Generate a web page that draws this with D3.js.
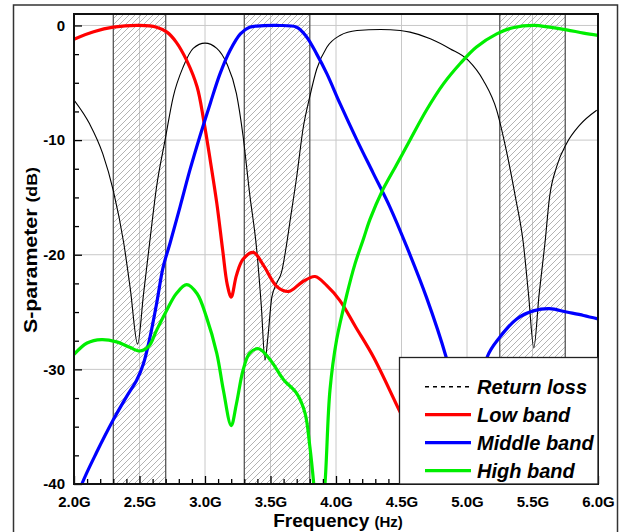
<!DOCTYPE html>
<html><head><meta charset="utf-8">
<script src="https://cdn.jsdelivr.net/npm/d3@7"></script>
<style>
body{margin:0;background:#fff;}
svg{display:block;font-family:Arial,"Liberation Sans",sans-serif;}
</style></head>
<body><svg id="c" width="626" height="532"></svg>
<script>
// ---- data (frequency in GHz, S-parameter in dB) ----
const xTicks = [2.0, 2.5, 3.0, 3.5, 4.0, 4.5, 5.0, 5.5, 6.0];
const yTicks = [0, -10, -20, -30, -40];
const bands = [[2.3, 2.7], [3.3, 3.8], [5.25, 5.75]];
const seriesNames = ["Return loss", "Low band", "Middle band", "High band"];

const returnLoss = [
 [2.0,-6.5],[2.12,-8.6],[2.22,-11.2],[2.3,-14.4],[2.38,-19.0],[2.43,-23.0],[2.486,-27.8],
 [2.53,-23.5],[2.58,-18.7],[2.63,-14.1],[2.695,-10.0],[2.758,-6.2],[2.834,-3.6],[2.91,-2.0],
 [3.0,-1.54],[3.09,-2.0],[3.165,-3.3],[3.24,-5.95],[3.29,-9.6],[3.34,-14.6],[3.395,-19.6],
 [3.43,-24.5],[3.458,-29.2],[3.48,-27.2],[3.51,-23.7],[3.547,-22.5],[3.585,-21.5],[3.62,-19.3],
 [3.65,-17.0],[3.70,-13.2],[3.75,-8.9],[3.80,-6.2],[3.853,-3.8],[3.93,-1.9],[4.03,-0.87],
 [4.16,-0.44],[4.34,-0.35],[4.49,-0.44],[4.565,-0.58],[4.72,-1.16],[4.87,-2.03],[5.01,-3.05],
 [5.125,-4.8],[5.227,-7.4],[5.30,-10.9],[5.37,-15.0],[5.43,-19.0],[5.47,-23.5],[5.51,-28.1],
 [5.55,-23.5],[5.595,-19.0],[5.63,-15.0],[5.685,-12.3],[5.76,-10.3],[5.86,-8.7],[5.99,-7.4]
];
const lowBand = [
 [2.0,-1.2],[2.15,-0.55],[2.3,-0.15],[2.5,0.0],[2.63,-0.15],[2.71,-0.58],[2.78,-1.45],
 [2.86,-3.05],[2.94,-5.37],[2.99,-8.28],[3.04,-11.76],[3.09,-15.5],[3.135,-19.6],[3.17,-22.6],
 [3.20,-23.7],[3.24,-21.8],[3.29,-20.4],[3.37,-19.8],[3.45,-21.0],[3.55,-22.8],[3.64,-23.2],
 [3.74,-22.4],[3.84,-21.9],[3.93,-22.7],[4.03,-24.0],[4.15,-26.3],[4.285,-28.9],[4.48,-33.5],
 [4.65,-37.5],[4.78,-40.5]
];
const middleBand = [
 [2.0,-42.0],[2.06,-40.0],[2.17,-37.3],[2.3,-34.4],[2.40,-32.4],[2.48,-30.9],[2.53,-29.5],
 [2.58,-27.2],[2.63,-24.3],[2.68,-21.1],[2.733,-19.0],[2.81,-15.8],[2.885,-12.6],[2.96,-9.7],
 [3.04,-6.8],[3.115,-4.2],[3.19,-2.2],[3.27,-0.73],[3.34,-0.15],[3.45,-0.02],[3.55,0.0],
 [3.70,-0.15],[3.776,-1.0],[3.853,-2.5],[3.93,-4.2],[4.03,-6.8],[4.16,-10.0],[4.285,-12.9],
 [4.41,-15.8],[4.54,-19.3],[4.69,-23.7],[4.84,-28.9],[4.95,-34.0],[5.02,-41.0],
 [5.09,-33.5],[5.155,-28.9],[5.25,-27.2],[5.38,-25.6],[5.506,-24.9],[5.63,-24.7],[5.76,-25.0],
 [5.89,-25.3],[6.0,-25.6]
];
const highBand = [
 [2.0,-28.7],[2.10,-27.7],[2.21,-27.4],[2.325,-27.6],[2.43,-28.1],[2.50,-28.4],[2.57,-28.0],
 [2.63,-26.6],[2.71,-24.8],[2.78,-23.4],[2.86,-22.6],[2.94,-23.4],[3.01,-25.4],[3.09,-28.6],
 [3.14,-31.8],[3.20,-34.9],[3.24,-33.0],[3.29,-30.1],[3.34,-28.6],[3.41,-28.2],[3.50,-29.2],
 [3.60,-30.9],[3.70,-32.1],[3.763,-33.8],[3.80,-36.7],[3.83,-40.0],[3.87,-46.0],[3.916,-40.0],
 [3.954,-31.8],[4.005,-27.4],[4.08,-23.6],[4.145,-20.8],[4.21,-18.6],[4.26,-16.9],[4.35,-14.5],
 [4.46,-12.2],[4.565,-10.0],[4.69,-7.4],[4.82,-5.1],[4.95,-3.3],[5.07,-1.9],
 [5.227,-0.73],[5.35,-0.2],[5.51,0.0],[5.63,-0.15],[5.76,-0.38],[5.89,-0.67],[6.0,-0.87]
];

// ---- layout ----
const svg = d3.select("#c");
const L = 74, R = 598, T = 14, B = 484;
const x = d3.scaleLinear().domain([2.0, 6.0]).range([L, R]);
const y = d3.scaleLinear().domain([-40, 1]).range([B, T]);
const f = "Arial, 'Liberation Sans', sans-serif";

// outer frame
svg.append("rect").attr("x", 13.5).attr("y", 5).attr("width", 604).attr("height", 540)
  .attr("fill", "none").attr("stroke", "#333").attr("stroke-width", 1.5);

const defs = svg.append("defs");
const pat = defs.append("pattern").attr("id", "hatch").attr("patternUnits", "userSpaceOnUse")
  .attr("width", 6).attr("height", 6);
pat.append("path").attr("d", "M-1,1 l2,-2 M0,6 l6,-6 M5,7 l2,-2")
  .attr("stroke", "#a0a0a0").attr("stroke-width", 0.8);
defs.append("clipPath").attr("id", "clip").append("rect")
  .attr("x", L).attr("y", T).attr("width", R - L).attr("height", B - T);

// hatched bands
const bg = svg.append("g");
bg.selectAll("rect").data(bands).join("rect")
  .attr("x", d => x(d[0])).attr("y", T).attr("width", d => x(d[1]) - x(d[0])).attr("height", B - T)
  .attr("fill", "url(#hatch)").attr("stroke", "none");

// grid
const grid = svg.append("g");
grid.selectAll(".gx").data(xTicks.slice(1, -1)).join("line")
  .attr("x1", d => x(d)).attr("x2", d => x(d)).attr("y1", T).attr("y2", B)
  .attr("stroke", "#c8c8c8").attr("stroke-width", 1);
grid.selectAll(".gy").data(yTicks.slice(0, -1)).join("line")
  .attr("x1", L).attr("x2", R).attr("y1", d => y(d)).attr("y2", d => y(d))
  .attr("stroke", "#c8c8c8").attr("stroke-width", 1);

bg.raise();
bg.selectAll(".edge").data(bands.flat()).join("line")
  .attr("x1", d => x(d)).attr("x2", d => x(d)).attr("y1", T).attr("y2", B)
  .attr("stroke", "#555").attr("stroke-width", 1.3);

// curves
const lineRL = d3.line().x(d => x(d[0])).y(d => y(d[1])).curve(d3.curveMonotoneX);
const lineS = d3.line().x(d => x(d[0])).y(d => y(d[1])).curve(d3.curveCatmullRom.alpha(0.5));
const cg = svg.append("g").attr("clip-path", "url(#clip)");
const series = [
  {data: returnLoss, color: "#000", w: 1.1, gen: lineRL},
  {data: lowBand, color: "#ff0000", w: 3.2, gen: lineS},
  {data: middleBand, color: "#0000ff", w: 3.2, gen: lineS},
  {data: highBand, color: "#00ee00", w: 3.2, gen: lineS}
];
series.forEach(s => {
  cg.append("path").attr("d", s.gen(s.data)).attr("fill", "none")
    .attr("stroke", s.color).attr("stroke-width", s.w).attr("stroke-linejoin", "round");
});

// axes
const xMinor = d3.range(20, 61).map(v => v / 10).filter(v => !xTicks.some(t => Math.abs(t - v) < 1e-6));
const yMinor = d3.range(0, 17).map(i => -i * 2.5).filter(v => !yTicks.includes(v));

const ax = svg.append("g").attr("transform", `translate(0,${B})`)
  .call(d3.axisBottom(x).tickValues(xTicks).tickSizeInner(-8).tickSizeOuter(0).tickPadding(12)
    .tickFormat(d => d.toFixed(1) + "G"));
svg.append("g").attr("transform", `translate(0,${B})`)
  .call(d3.axisBottom(x).tickValues(xMinor).tickSizeInner(-5).tickSizeOuter(0).tickFormat(""));
const ay = svg.append("g").attr("transform", `translate(${L},0)`)
  .call(d3.axisLeft(y).tickValues(yTicks).tickSizeInner(-8).tickSizeOuter(0).tickPadding(9)
    .tickFormat(d => String(d)));
svg.append("g").attr("transform", `translate(${L},0)`)
  .call(d3.axisLeft(y).tickValues(yMinor).tickSizeInner(-5).tickSizeOuter(0).tickFormat(""));
svg.selectAll(".domain").remove();
svg.selectAll(".tick line").attr("stroke", "#000").attr("stroke-width", 1.3);
[ax, ay].forEach(a => a.selectAll("text").attr("font-family", f).attr("font-size", 15)
  .attr("font-weight", "bold").attr("fill", "#000"));

// plot frame
svg.append("rect").attr("x", L).attr("y", T).attr("width", R - L).attr("height", B - T)
  .attr("fill", "none").attr("stroke", "#111").attr("stroke-width", 2);

// axis titles
const xt = svg.append("text").attr("x", (L + R) / 2 + 2).attr("y", 527).attr("text-anchor", "middle")
  .attr("font-family", f).attr("font-weight", "bold").attr("fill", "#000");
xt.append("tspan").attr("font-size", 19).text("Frequency ");
xt.append("tspan").attr("font-size", 15).text("(Hz)");

const yt = svg.append("text").attr("transform", "translate(37,250) rotate(-90)")
  .attr("text-anchor", "middle").attr("font-family", f).attr("font-weight", "bold").attr("fill", "#000")
  .attr("textLength", 166).attr("lengthAdjust", "spacingAndGlyphs");
yt.append("tspan").attr("font-size", 18).text("S-parameter ");
yt.append("tspan").attr("font-size", 15).text("(dB)");

// legend
const lg = svg.append("g");
lg.append("rect").attr("x", 399.5).attr("y", 357.5).attr("width", R - 399.5).attr("height", B - 357.5)
  .attr("fill", "#fff").attr("stroke", "#222").attr("stroke-width", 1.3);
seriesNames.forEach((name, i) => {
  const yy = 386.7 + i * 28;
  const s = series[i];
  lg.append("line").attr("x1", 425).attr("x2", 471).attr("y1", yy).attr("y2", yy)
    .attr("stroke", s.color).attr("stroke-width", i === 0 ? 1.4 : 3.2)
    .attr("stroke-dasharray", i === 0 ? "4,4" : null);
  lg.append("text").attr("x", 477).attr("y", yy + 7.3).text(name)
    .attr("font-family", f).attr("font-size", 20).attr("font-weight", "bold")
    .attr("font-style", "italic").attr("fill", "#000");
});
</script></body></html>
